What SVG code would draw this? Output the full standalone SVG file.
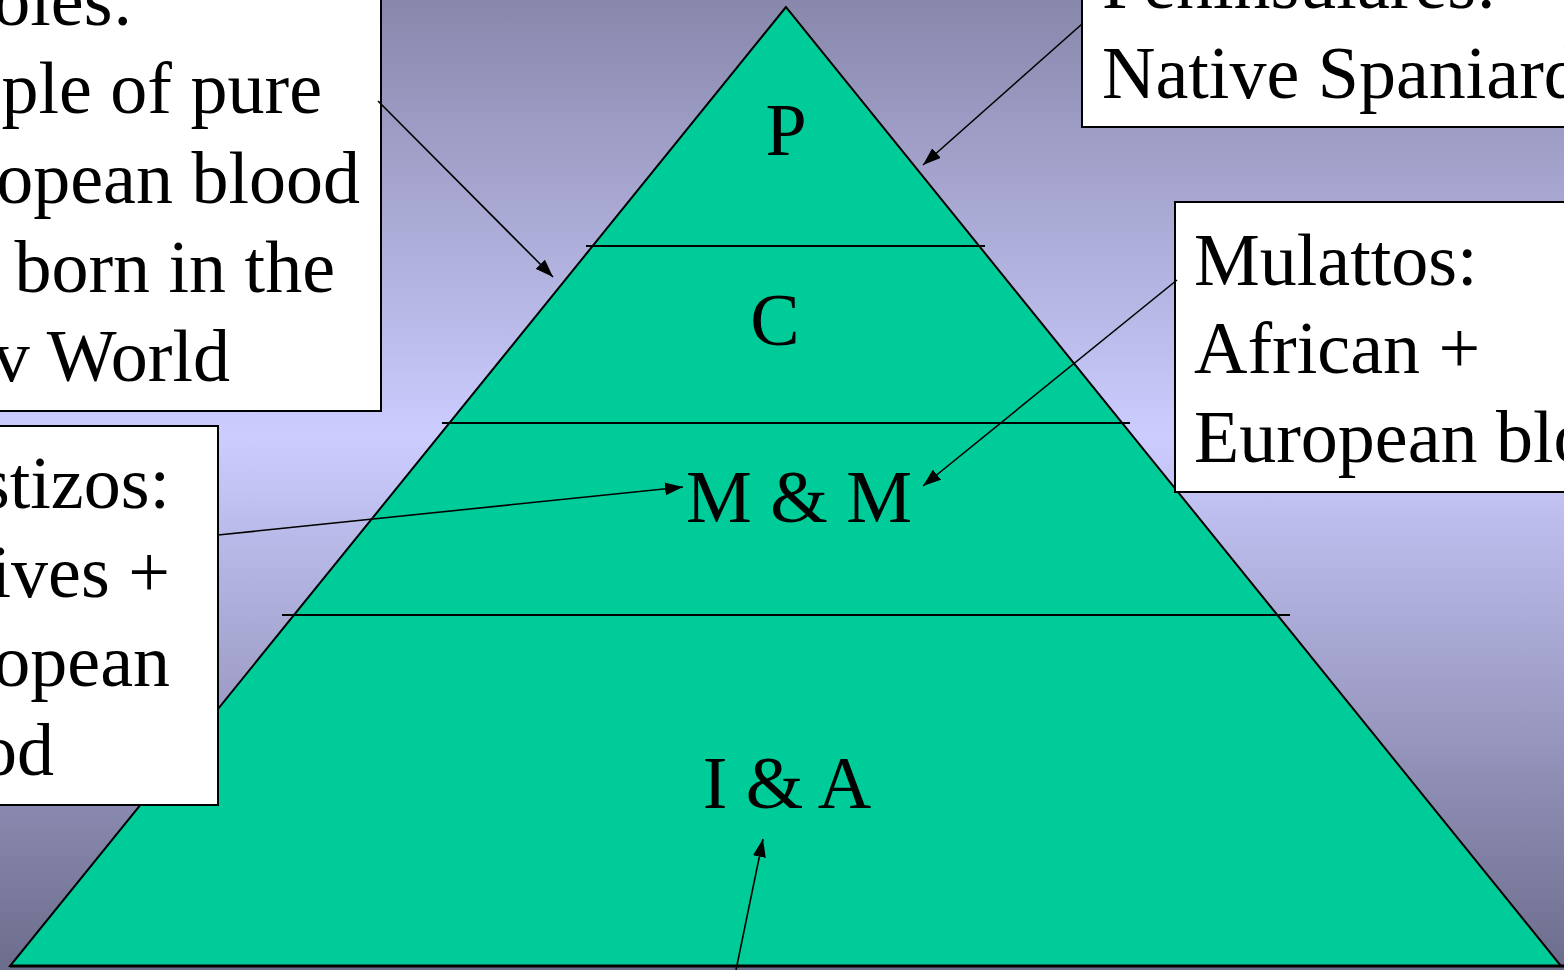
<svg xmlns="http://www.w3.org/2000/svg" width="1564" height="970" viewBox="0 0 1564 970">
<defs>
<linearGradient id="bg" x1="0" y1="0" x2="0" y2="1">
<stop offset="0" stop-color="#8888ac"/>
<stop offset="0.45" stop-color="#ccccff"/>
<stop offset="1" stop-color="#6c6c8c"/>
</linearGradient>
<marker id="ahl" viewBox="0 0 10 10" refX="10" refY="5" markerWidth="18" markerHeight="13" markerUnits="userSpaceOnUse" orient="auto" preserveAspectRatio="none">
<path d="M0,0 L10,5 L0,10 z" fill="#000"/>
</marker>
</defs>
<style>
.t{font-family:"Liberation Serif","Times New Roman",serif;font-size:74px;fill:#000}
.box{fill:#fff;stroke:#000;stroke-width:2}
.div{stroke:#000;stroke-width:2;fill:none}
.con{stroke:#000;stroke-width:1.6;fill:none;marker-end:url(#ahl)}
</style>
<rect x="0" y="0" width="1564" height="970" fill="url(#bg)"/>
<g id="pyramid">
<polygon points="786,7 10,966 1561,966" fill="#00cc99" stroke="#000" stroke-width="2" stroke-linejoin="miter"/>
<line class="div" x1="586" y1="246" x2="985" y2="246"/>
<line class="div" x1="442" y1="423" x2="1130" y2="423"/>
<line class="div" x1="282" y1="615" x2="1290" y2="615"/>
<line x1="10" y1="966" x2="1564" y2="966" stroke="#000" stroke-width="3"/>
</g>
<g id="label-P"><text class="t" x="786" y="155" text-anchor="middle">P</text></g>
<g id="label-C"><text class="t" x="775" y="345" text-anchor="middle">C</text></g>
<g id="label-MM"><text class="t" x="799" y="522" text-anchor="middle">M &amp; M</text></g>
<g id="label-IA"><text class="t" x="787" y="808" text-anchor="middle">I &amp; A</text></g>
<g id="creoles">
<rect class="box" x="-10" y="-10" width="391" height="421"/>
<text class="t" text-anchor="end"><tspan x="133" y="25">oles:</tspan><tspan x="322" y="113">ple of pure</tspan><tspan x="360" y="203">opean blood</tspan><tspan x="335" y="292">born in the</tspan><tspan x="230" y="381">v World</tspan></text>
</g>
<g id="peninsulares">
<rect class="box" x="1082" y="-10" width="500" height="137"/>
<text class="t"><tspan x="1102" y="8">Peninsulares:</tspan><tspan x="1102" y="98">Native Spaniard</tspan></text>
</g>
<g id="mulattos">
<rect class="box" x="1175" y="202" width="400" height="290"/>
<text class="t"><tspan x="1194" y="285">Mulattos:</tspan><tspan x="1194" y="373">African +</tspan><tspan x="1194" y="462">European blood</tspan></text>
</g>
<g id="mestizos">
<rect class="box" x="-10" y="426" width="228" height="379"/>
<text class="t" text-anchor="end"><tspan x="170" y="508">stizos:</tspan><tspan x="170" y="597">ives +</tspan><tspan x="170" y="686">opean</tspan><tspan x="54" y="775">od</tspan></text>
</g>
<g id="connectors">
<line class="con" x1="1082" y1="24" x2="923" y2="165"/>
<line class="con" x1="378" y1="101" x2="553" y2="277"/>
<line class="con" x1="1177" y1="280" x2="923" y2="486"/>
<line class="con" x1="218" y1="535" x2="683" y2="487"/>
<line class="con" x1="736" y1="970" x2="763" y2="839"/>
</g>
</svg>
